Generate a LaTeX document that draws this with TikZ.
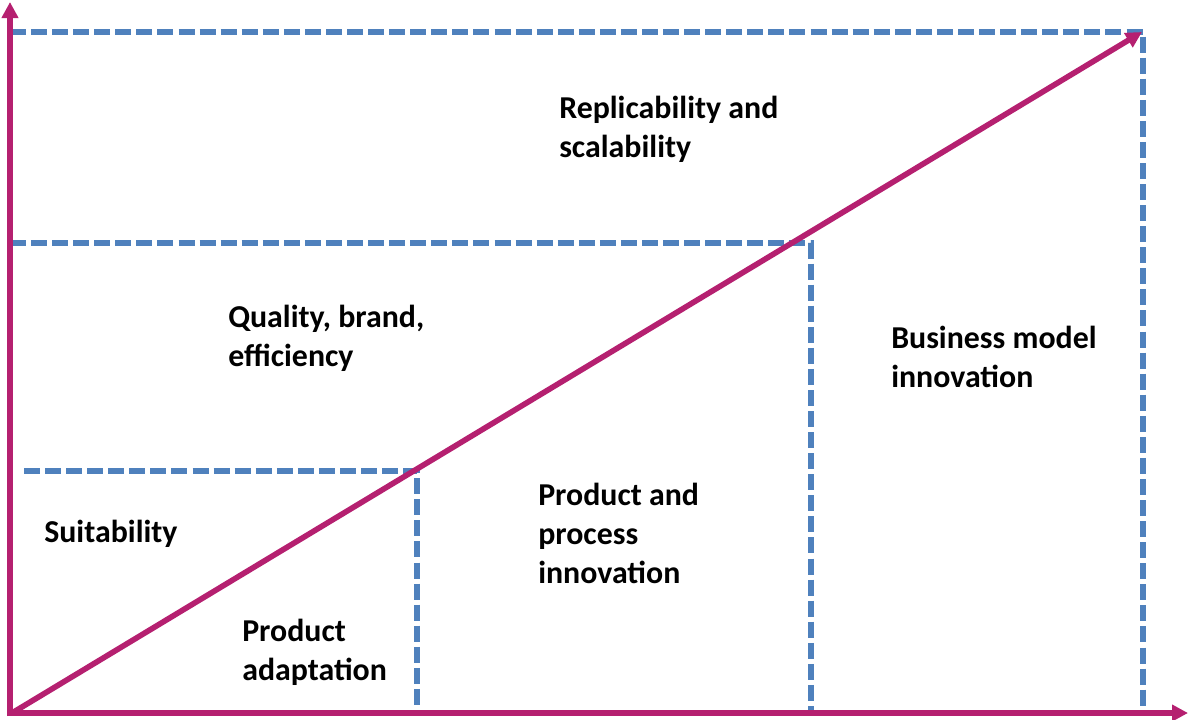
\documentclass[tikz,border=0pt]{standalone}
\usepackage{fontspec}
\setmainfont{Carlito}
\usetikzlibrary{arrows.meta}
\definecolor{axiscol}{RGB}{181,32,112}
\definecolor{dashcol}{RGB}{79,129,189}
\begin{document}
\begin{tikzpicture}[x=0.75pt,y=-0.75pt,
  axisline/.style={draw=axiscol,line width=4.2pt},
  axisarrow/.style={axisline,-{Triangle[length=12pt,width=12pt]}},
  dashbox/.style={draw=dashcol,line width=3.8pt,dash pattern=on 12pt off 3.8pt},
  lbl/.style={anchor=base west,inner sep=0pt,align=left,font=\fontsize{23.9pt}{29pt}\selectfont\bfseries}]
\useasboundingbox (0,0) rectangle (1188,719);
% coordinates
\coordinate (O) at (10,713);
\coordinate (Ytop) at (10,2);
\coordinate (Yb) at (10,716);
\coordinate (Xb) at (7,713);
\coordinate (Xend) at (1188,713);
\coordinate (Dstart) at (12,713);
\coordinate (Dend) at (1142,32);
\coordinate (T1) at (10,32);
\coordinate (T2) at (1143,32);
\coordinate (T3) at (1143,713);
\coordinate (M1) at (10,243);
\coordinate (M2) at (811,243);
\coordinate (M3) at (811,713);
\coordinate (L1) at (24,471);
\coordinate (L2) at (417,471);
\coordinate (L3) at (417,713);
% dashed boxes
\draw[dashbox] (T1) -- (T2) -- (T3);
\draw[dashbox] (M1) -- (M2) -- (M3);
\draw[dashbox] (L1) -- (L2) -- (L3);
% axes and diagonal
\draw[axisarrow] (Yb) -- (Ytop);
\draw[axisarrow] (Xb) -- (Xend);
\draw[axisarrow] (Dstart) -- (Dend);
% labels (anchored at the baseline of their last line)
\node[lbl] (repl) at (559,157) {Replicability and\\scalability};
\node[lbl] (qual) at (228,366) {Quality, brand,\\efficiency};
\node[lbl] (bmi) at (891,387) {Business model\\innovation};
\node[lbl] (ppi) at (538,583) {Product and\\process\\innovation};
\node[lbl] (suit) at (44,542) {Suitability};
\node[lbl] (pad) at (242,680) {Product\\adaptation};
\end{tikzpicture}
\end{document}
